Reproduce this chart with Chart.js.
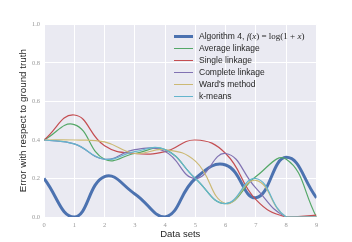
<!DOCTYPE html>
<html lang="en">
  <head>
    <meta charset="UTF-8" />
    <title>Error with respect to ground truth</title>
    <script src="https://cdn.jsdelivr.net/npm/chart.js"></script>
    <style>
      body { margin: 0; background: #fff; }
      #wrap { position: relative; width: 352px; height: 242px; }
      #legend {
        position: absolute; left: 174px; top: 30px;
        font: 8.5px "Liberation Sans", Arial, sans-serif; color: #262626;
      }
      .row { height: 12px; display: flex; align-items: center; white-space: nowrap; }
      .swatch { width: 19px; margin-right: 6px; }
      .math { font-family: "Liberation Serif", serif; font-size: 9px; }
    </style>
  </head>
  <body>
    <div id="wrap">
      <canvas id="errChart" width="352" height="242"></canvas>
      <div id="legend"></div>
    </div>

    <script>
      const dataSets = ["0", "1", "2", "3", "4", "5", "6", "7", "8", "9"];
      const yTicks = [0, 0.2, 0.4, 0.6, 0.8, 1.0];

      const seriesNames = [
        "Algorithm 4, f(x) = log(1 + x)",
        "Average linkage",
        "Single linkage",
        "Complete linkage",
        "Ward's method",
        "k-means",
      ];

      const algorithm4 = [0.2, 0.0, 0.21, 0.12, 0.0, 0.2, 0.27, 0.1, 0.31, 0.1];
      const averageLinkage = [0.4, 0.48, 0.3, 0.33, 0.35, 0.2, 0.07, 0.21, 0.3, 0.0];
      const singleLinkage = [0.4, 0.53, 0.37, 0.33, 0.34, 0.4, 0.33, 0.09, 0.0, 0.01];
      const completeLinkage = [0.4, 0.38, 0.3, 0.35, 0.34, 0.2, 0.33, 0.15, 0.0, 0.0];
      const wardsMethod = [0.4, 0.4, 0.39, 0.33, 0.35, 0.29, 0.07, 0.19, 0.0, 0.0];
      const kMeans = [0.4, 0.38, 0.3, 0.34, 0.35, 0.2, 0.07, 0.2, 0.0, 0.0];

      const colors = ["#4C72B0", "#55A868", "#C44E52", "#8172B2", "#CCB974", "#64B5CD"];
      const widths = [3, 1.2, 1.2, 1.2, 1.2, 1.2];
      const values = [algorithm4, averageLinkage, singleLinkage, completeLinkage, wardsMethod, kMeans];

      // seaborn-ish grey plot background
      const areaBg = {
        id: "areaBg",
        beforeDraw(chart) {
          const { ctx, chartArea: a } = chart;
          ctx.save();
          ctx.fillStyle = "#EAEAF2";
          ctx.fillRect(a.left, a.top, a.right - a.left, a.bottom - a.top);
          ctx.restore();
        },
      };

      const tickFont = { family: "Liberation Serif", size: 6.5 };

      new Chart(document.getElementById("errChart"), {
        type: "line",
        data: {
          labels: dataSets,
          datasets: values.map((v, i) => ({
            label: seriesNames[i],
            data: v,
            borderColor: colors[i],
            backgroundColor: colors[i],
            borderWidth: widths[i],
            pointRadius: 0,
            tension: 0.45,
            clip: 0,
            // later series on top, like matplotlib
            order: values.length - i,
          })),
        },
        options: {
          responsive: false,
          animation: false,
          layout: { padding: { left: 0, right: 35.5, top: 24.5, bottom: 0 } },
          plugins: { legend: { display: false }, tooltip: { enabled: false } },
          scales: {
            x: {
              grid: { color: "#ffffff", lineWidth: 1, drawTicks: false },
              border: { display: false },
              ticks: { color: "#999999", font: tickFont, padding: 4, maxRotation: 0 },
              title: {
                display: true,
                text: "Data sets",
                color: "#262626",
                font: { family: "Liberation Sans", size: 9.5 },
                padding: { top: 0, bottom: 1.5 },
              },
              afterFit(scale) { scale.height = 25; },
            },
            y: {
              min: 0,
              max: 1,
              afterBuildTicks(scale) { scale.ticks = yTicks.map((v) => ({ value: v })); },
              grid: { color: "#ffffff", lineWidth: 1, drawTicks: false },
              border: { display: false },
              ticks: {
                color: "#999999",
                font: tickFont,
                padding: 4,
                callback: (v) => Number(v).toFixed(1),
              },
              title: {
                display: true,
                text: "Error with respect to ground truth",
                color: "#262626",
                font: { family: "Liberation Sans", size: 9.8 },
                padding: { top: 17.5, bottom: 0 },
              },
              afterFit(scale) { scale.width = 44; },
            },
          },
        },
        plugins: [areaBg],
      });

      // legend inside the plot, upper right
      const legend = document.getElementById("legend");
      seriesNames.forEach((name, i) => {
        const row = document.createElement("div");
        row.className = "row";
        const sw = document.createElement("span");
        sw.className = "swatch";
        sw.style.borderTop = widths[i] + "px solid " + colors[i];
        row.appendChild(sw);
        const txt = document.createElement("span");
        if (i === 0) {
          txt.innerHTML = 'Algorithm 4, <span class="math"><i>f</i>(<i>x</i>) = log(1 + <i>x</i>)</span>';
        } else {
          txt.textContent = name;
        }
        row.appendChild(txt);
        legend.appendChild(row);
      });
    </script>
  </body>
</html>
